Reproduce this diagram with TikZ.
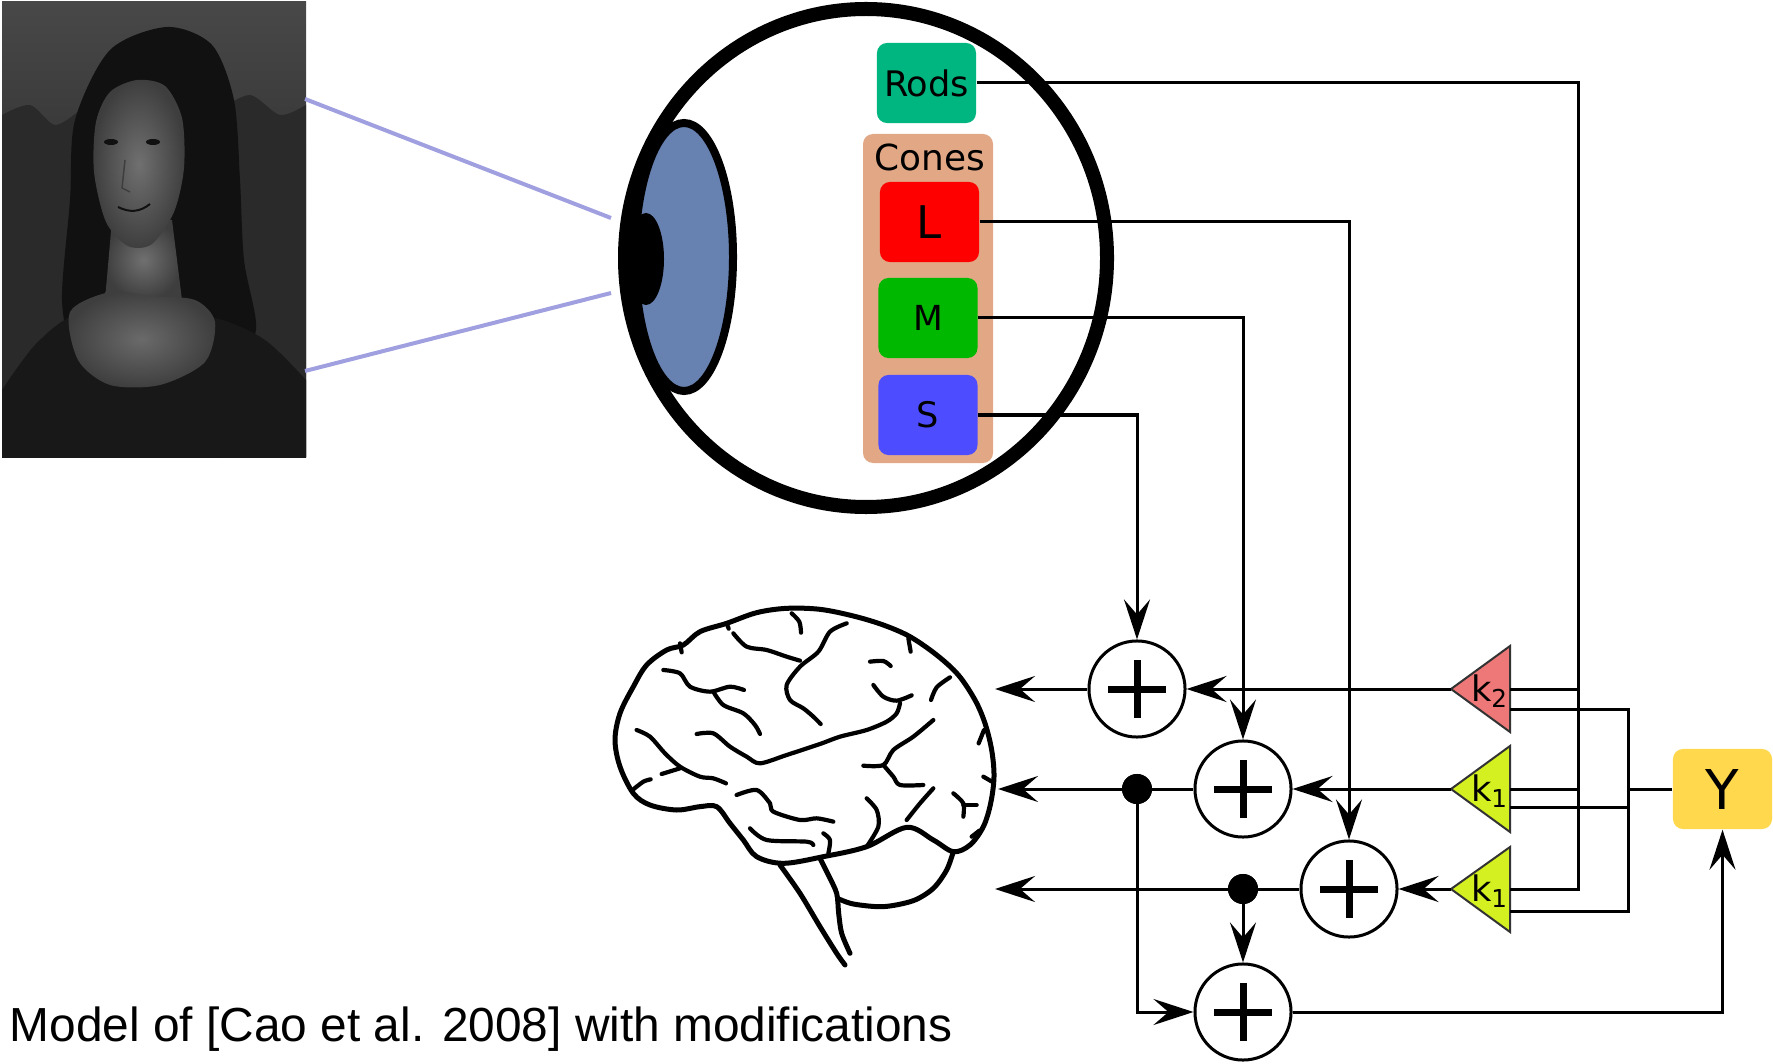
\documentclass[tikz,border=0pt]{standalone}
\usepackage{fontspec}
\setmainfont{DejaVu Sans}
\newfontfamily\capfont{Liberation Sans}
\usetikzlibrary{arrows.meta}
\definecolor{rodgreen}{HTML}{00B680}
\definecolor{conetan}{HTML}{E2A886}
\definecolor{lred}{HTML}{FF0000}
\definecolor{mgreen}{HTML}{00B800}
\definecolor{sblue}{HTML}{4D4DFF}
\definecolor{iris}{HTML}{6781B0}
\definecolor{gainred}{HTML}{EE7777}
\definecolor{gainlime}{HTML}{D4F020}
\definecolor{lumyellow}{HTML}{FFD84D}
\definecolor{ray}{HTML}{A0A0E0}
\definecolor{mlTop}{HTML}{484848}
\definecolor{mlBottom}{HTML}{161616}
\definecolor{mlLand}{HTML}{2A2A2A}
\definecolor{mlHair}{HTML}{111111}
\definecolor{mlSkinHi}{HTML}{707070}
\definecolor{mlSkinLo}{HTML}{3E3E3E}
\definecolor{mlChestHi}{HTML}{6A6A6A}
\definecolor{mlDress}{HTML}{181818}
\tikzset{
  wire/.style={line width=0.03cm},
  arr/.style={wire, -{Stealth[length=4mm,width=2.6mm,inset=1.5mm]}},
  cell/.style={rounded corners=0.1cm, minimum width=0.99cm, minimum height=0.8cm, inner sep=0pt},
  sum/.style={circle, draw, fill=white, line width=0.03cm, minimum size=0.96cm, inner sep=0pt,
    path picture={\draw[line width=0.07cm]
      (path picture bounding box.center) +(-29,0) -- +(29,0)
      (path picture bounding box.center) +(0,-29) -- +(0,29);}},
  junction/.style={circle, fill=black, minimum size=0.3cm, inner sep=0pt},
  gain/.style={draw=black!80, line width=0.02cm},
  gaintext/.style={font=\fontsize{10}{12}\selectfont, inner sep=0pt},
  brainout/.style={line width=0.05cm, line cap=round, line join=round},
  sulcus/.style={line width=0.042cm, line cap=round, line join=round},
}
\begin{document}
\begin{tikzpicture}[x=0.01cm, y=-0.01cm]
\useasboundingbox (0,0) rectangle (1773,1064);

% ---------- portrait ----------
\begin{scope}
  \clip (2,2) rectangle (306,457);
  \shade[top color=mlTop, bottom color=mlBottom] (2,2) rectangle (306,457);
  % distant landscape
  \fill[mlLand] plot[smooth] coordinates {(2,115) (30,105) (55,125) (80,110)}
     -- (80,457) -- (2,457) -- cycle;
  \fill[mlLand] plot[smooth] coordinates {(220,110) (250,95) (280,115) (306,105)}
     -- (306,457) -- (220,457) -- cycle;
  % hair and veil
  \fill[mlHair] plot[smooth cycle] coordinates {(167,27) (212,45) (234,100) (240,180)
     (244,260) (256,330) (230,360) (180,330) (120,335) (75,345) (62,300) (70,200) (75,120) (110,50)};
  % dress
  \fill[mlDress] plot[smooth] coordinates {(2,390) (35,345) (75,315) (140,310) (215,318) (265,340) (306,380)}
     -- (306,457) -- (2,457) -- cycle;
  % neck and chest
  \shade[inner color=mlSkinHi, outer color=mlSkinLo] (112,220) -- (172,220) -- (182,300) -- (105,300) -- cycle;
  \shade[inner color=mlChestHi, outer color=mlSkinLo] plot[smooth cycle] coordinates {(70,312) (110,292) (150,296) (195,300)
     (215,322) (205,362) (160,385) (110,385) (78,360)};
  % face
  \shade[inner color=mlSkinHi, outer color=mlSkinLo] plot[smooth cycle] coordinates {(137,80) (165,86) (182,118) (184,168)
     (174,212) (152,244) (128,246) (106,222) (94,172) (96,122) (110,92)};
  % features
  \fill[mlHair] (111,142) ellipse (7 and 3);
  \fill[mlHair] (153,142) ellipse (7 and 3);
  \draw[mlSkinLo, line width=0.015cm] (125,160) -- (122,188) -- (130,192);
  \draw[mlHair, line width=0.02cm] (118,207) .. controls (130,213) and (140,212) .. (150,204);
\end{scope}

% ---------- rays from the portrait to the eye ----------
\coordinate (rayA) at (305,99);
\coordinate (rayB) at (305,371);
\coordinate (pupilTop) at (611,218);
\coordinate (pupilBot) at (611,293);
\draw[ray, line width=0.04cm] (rayA) -- (pupilTop);
\draw[ray, line width=0.04cm] (rayB) -- (pupilBot);

% ---------- eye ----------
\draw[line width=0.14cm, fill=white] (866,258) ellipse (241 and 249);
\draw[fill=iris, line width=0.08cm] (684,257) ellipse (49 and 134);
\fill[black] (646,259) ellipse (18 and 46);

\node[cell, fill=rodgreen, font=\fontsize{10}{12}\selectfont] (rods) at (926.5,83) {Rods};
\fill[conetan] [rounded corners=0.1cm] (863,134) rectangle (993,463);
\node[font=\fontsize{10.2}{12}\selectfont, inner sep=0pt] (cones) at (930,157) {Cones};
\node[cell, fill=lred, font=\fontsize{12.8}{14}\selectfont] (L) at (929.5,222) {L};
\node[cell, fill=mgreen, font=\fontsize{9.8}{12}\selectfont] (M) at (928,318) {M};
\node[cell, fill=sblue, font=\fontsize{10}{12}\selectfont] (S) at (928,415) {S};

% ---------- brain ----------
\begin{scope}[shift={(600,590)}, scale=1/3]
  \draw[brainout] plot[smooth cycle, tension=0.55] coordinates {
    (300,650) (230,660) (150,645) (100,610) (60,530) (45,450) (60,370) (100,290)
    (140,225) (200,180) (250,165) (300,125) (380,100) (470,68) (560,55) (660,58)
    (760,78) (850,105) (930,140) (1010,195) (1075,255) (1125,330) (1155,400)
    (1175,480) (1182,560) (1172,640) (1150,710) (1110,765) (1060,785) (1000,750)
    (920,712) (800,770) (670,800) (550,820) (470,800) (430,750) (390,700) (350,650)};
  \draw[brainout] plot[smooth] coordinates {(1060,785) (1040,840) (1000,895) (940,932) (850,950) (760,942) (712,925)};
  \draw[brainout] plot[smooth] coordinates {(540,825) (600,910) (660,1010) (710,1090) (735,1125)};
  \draw[brainout] plot[smooth] coordinates {(660,805) (685,855) (710,910) (716,970) (725,1030) (750,1090)};
  % sulci
  \draw[sulcus] plot[smooth] coordinates {(400,130) (440,170) (500,180) (560,200) (600,212)};
  \draw[sulcus] plot[smooth] coordinates {(575,70) (598,95) (603,128)};
  \draw[sulcus] plot[smooth] coordinates {(740,100) (690,125) (655,185) (600,230) (560,285) (570,330) (610,355) (640,380) (662,402)};
  \draw[sulcus] plot[smooth] coordinates {(190,240) (240,250) (270,290) (330,305) (390,290) (432,300)};
  \draw[sulcus] plot[smooth] coordinates {(340,305) (370,345) (430,370) (465,405) (480,432)};
  \draw[sulcus] plot[smooth] coordinates {(110,420) (150,440) (195,490) (240,530) (300,560) (340,565) (378,580)};
  \draw[sulcus] plot[smooth] coordinates {(185,552) (240,535)};
  \draw[sulcus] plot[smooth] coordinates {(100,598) (130,575) (152,568)};
  \draw[sulcus] plot[smooth] coordinates {(290,432) (340,430) (390,470) (440,500) (480,520) (560,495) (660,462) (720,440) (800,420) (860,395) (890,370) (900,340)};
  \draw[sulcus] plot[smooth] coordinates {(810,215) (850,213) (872,228)};
  \draw[sulcus] plot[smooth] coordinates {(820,285) (850,320) (890,332) (935,316)};
  \draw[sulcus] plot[smooth] coordinates {(1050,262) (1010,292) (993,330)};
  \draw[sulcus] plot[smooth] coordinates {(1000,390) (940,440) (880,480) (850,525) (790,527)};
  \draw[sulcus] plot[smooth] coordinates {(850,525) (880,560) (900,585) (970,585)};
  \draw[sulcus] plot[smooth] coordinates {(1000,595) (960,640) (920,690)};
  \draw[sulcus] plot[smooth] coordinates {(1060,610) (1090,640) (1090,680)};
  \draw[sulcus] plot[smooth] coordinates {(1090,645) (1130,645)};
  \draw[sulcus] plot[smooth] coordinates {(800,625) (830,660) (835,710) (800,770)};
  \draw[sulcus] plot[smooth] coordinates {(410,615) (470,600) (510,640) (520,665) (600,690) (650,685) (700,695)};
  \draw[sulcus] plot[smooth] coordinates {(450,715) (500,750) (620,755) (640,765)};
  \draw[sulcus] plot[smooth] coordinates {(670,730) (690,750) (685,790)};
  % small notches on the rim
  \draw[sulcus] (240,160) -- (245,187);
  \draw[sulcus] (380,100) -- (386,116);
  \draw[sulcus] (925,145) -- (932,185);
  \draw[sulcus] (1152,420) -- (1136,460);
  \draw[sulcus] (1150,560) -- (1176,575);
  \draw[sulcus] (1115,740) -- (1138,722);
\end{scope}

% ---------- arrow targets at the brain ----------
\coordinate (toBrainA) at (995,689);
\coordinate (toBrainB) at (998,789);
\coordinate (toBrainC) at (995,889);

% ---------- adders ----------
\node[sum] (sA) at (1137,689) {};
\node[sum] (sB) at (1243,789) {};
\node[sum] (sC) at (1349,889) {};
\node[sum] (sD) at (1243,1012) {};
\node[junction] (dB) at (1137,789) {};
\node[junction] (dC) at (1243,889) {};

% ---------- gains ----------
\coordinate (kTwoTip) at (1451,689);
\coordinate (kOneATip) at (1451,789);
\coordinate (kOneBTip) at (1451,889);
\filldraw[gain, fill=gainred] (kTwoTip) -- (1510,646) -- (1510,732) -- cycle;
\filldraw[gain, fill=gainlime] (kOneATip) -- (1510,746) -- (1510,832) -- cycle;
\filldraw[gain, fill=gainlime] (kOneBTip) -- (1510,847) -- (1510,932) -- cycle;
\node[gaintext] (kTwoLab) at (1490,691) {k\textsubscript{2}};
\node[gaintext] (kOneALab) at (1490,791) {k\textsubscript{1}};
\node[gaintext] (kOneBLab) at (1490,891) {k\textsubscript{1}};
\coordinate (kTwoInR) at (1510,689);
\coordinate (kTwoInY) at (1510,709);
\coordinate (kOneAInR) at (1510,789);
\coordinate (kOneAInY) at (1510,807);
\coordinate (kOneBInR) at (1510,889);
\coordinate (kOneBInY) at (1510,911);

% ---------- luminance ----------
\node[cell, fill=lumyellow, font=\fontsize{15.6}{18}\selectfont] (Y) at (1722.5,789) {Y};

% ---------- rod bus and Y bus ----------
\coordinate (rodBus) at (1578,889);
\coordinate (yBusTop) at (1628,709);
\coordinate (yBusBot) at (1628,911);
\draw[wire] (rods.east) -| (rodBus) -- (kOneBInR);
\draw[wire] (kTwoInR) -- (kTwoInR -| rodBus);
\draw[wire] (kOneAInR) -- (kOneAInR -| rodBus);
\draw[wire] (kTwoInY) -- (yBusTop) -- (yBusBot) -- (kOneBInY);
\draw[wire] (kOneAInY) -- (kOneAInY -| yBusTop);
\draw[wire] (Y.west) -- (Y.west -| yBusTop);

% ---------- cone signals ----------
\draw[arr] (S.east) -| (sA.north);
\draw[arr] (M.east) -| (sB.north);
\draw[arr] (L.east) -| (sC.north);

% ---------- gains into adders ----------
\draw[arr] (kTwoTip) -- (sA.east);
\draw[arr] (kOneATip) -- (sB.east);
\draw[arr] (kOneBTip) -- (sC.east);

% ---------- adders to the brain ----------
\draw[arr] (sA.west) -- (toBrainA);
\draw[arr] (sB.west) -- (toBrainB);
\draw[arr] (sC.west) -- (toBrainC);
\node[junction] at (dB) {};
\node[junction] at (dC) {};

% ---------- luminance sum ----------
\draw[arr] (dB.center) |- (sD.west);
\draw[arr] (dC.center) -- (sD.north);
\draw[arr] (sD.east) -| (Y.south);

% ---------- caption ----------
\node[anchor=base west, inner sep=0pt, font=\capfont\fontsize{13.6}{16}\selectfont] (caption) at (9,1041)
  {Model of [Cao et al. 2008] with modifications};
\end{tikzpicture}
\end{document}
